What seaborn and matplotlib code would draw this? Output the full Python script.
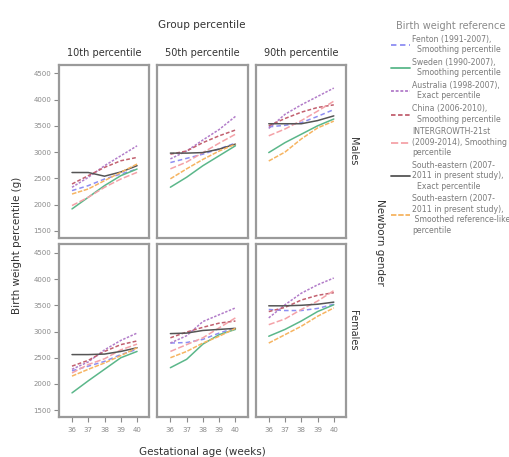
import matplotlib
matplotlib.use("Agg")
import matplotlib.pyplot as plt
from matplotlib.lines import Line2D
import seaborn as sns
import pandas as pd

# Gestational ages (weeks)
weeks = [36, 37, 38, 39, 40]

# Reference names (legend order)
references = [
    "Fenton (1991-2007),\n  Smoothing percentile",
    "Sweden (1990-2007),\n  Smoothing percentile",
    "Australia (1998-2007),\n  Exact percentile",
    "China (2006-2010),\n  Smoothing percentile",
    "INTERGROWTH-21st\n(2009-2014), Smoothing\npercentile",
    "South-eastern (2007-\n2011 in present study),\n  Exact percentile",
    "South-eastern (2007-\n2011 in present study),\n Smoothed reference-like\npercentile",
]
ref_colors = ["#8e8ef2", "#5bb78a", "#b27cc9", "#c2606f", "#f4a2a8", "#555555", "#f6b461"]
ref_dashes = [(3, 2), "", (1.6, 1), (2.5, 1.4), (4, 1.5), "", (3, 1)]

percentiles = ["10th percentile", "50th percentile", "90th percentile"]
genders = ["Males", "Females"]

# Birth weight (g) at 36..40 weeks, one list per reference, in legend order
males_p10 = [
    [2265, 2360, 2486, 2581, 2676],
    [1916, 2138, 2360, 2550, 2676],
    [2328, 2518, 2740, 2929, 3119],
    [2391, 2550, 2708, 2834, 2898],
    [1980, 2138, 2328, 2486, 2613],
    [2610, 2610, 2540, 2620, 2740],
    [2200, 2296, 2455, 2613, 2771],
]
males_p50 = [
    [2800, 2880, 2960, 3060, 3170],
    [2330, 2520, 2740, 2930, 3120],
    [2870, 3020, 3230, 3430, 3680],
    [2960, 3020, 3180, 3310, 3420],
    [2680, 2810, 2990, 3170, 3340],
    [2980, 2980, 2990, 3056, 3151],
    [2490, 2680, 2860, 3020, 3150],
]
males_p90 = [
    [3480, 3510, 3560, 3680, 3810],
    [2990, 3180, 3340, 3500, 3630],
    [3450, 3720, 3900, 4060, 4220],
    [3500, 3640, 3760, 3850, 3900],
    [3310, 3440, 3600, 3780, 3970],
    [3540, 3540, 3540, 3600, 3690],
    [2830, 3000, 3250, 3460, 3590],
]
females_p10 = [
    [2250, 2340, 2430, 2560, 2660],
    [1830, 2060, 2280, 2500, 2620],
    [2280, 2420, 2650, 2830, 2970],
    [2340, 2450, 2620, 2750, 2820],
    [2210, 2370, 2480, 2650, 2760],
    [2560, 2560, 2570, 2620, 2690],
    [2150, 2280, 2400, 2540, 2690],
]
females_p50 = [
    [2780, 2790, 2850, 2970, 3070],
    [2310, 2470, 2760, 2940, 3040],
    [2780, 2920, 3190, 3320, 3450],
    [2880, 2990, 3080, 3160, 3200],
    [2620, 2750, 2880, 3070, 3260],
    [2960, 2970, 3020, 3040, 3060],
    [2500, 2620, 2780, 2910, 3060],
]
females_p90 = [
    [3420, 3400, 3400, 3440, 3520],
    [2910, 3040, 3200, 3380, 3510],
    [3260, 3510, 3730, 3890, 4020],
    [3380, 3460, 3600, 3690, 3740],
    [3130, 3240, 3420, 3580, 3780],
    [3490, 3490, 3500, 3520, 3560],
    [2780, 2940, 3100, 3290, 3450],
]

y_ticks = [1500, 2000, 2500, 3000, 3500, 4000, 4500]

tables = {
    ("Males", "10th percentile"): males_p10,
    ("Males", "50th percentile"): males_p50,
    ("Males", "90th percentile"): males_p90,
    ("Females", "10th percentile"): females_p10,
    ("Females", "50th percentile"): females_p50,
    ("Females", "90th percentile"): females_p90,
}

rows = []
for (gender, pct), series in tables.items():
    for ref, values in zip(references, series):
        for w, v in zip(weeks, values):
            rows.append({"gender": gender, "pct": pct, "ref": ref,
                         "week": w, "weight": v})
df = pd.DataFrame(rows)

sns.set_theme(style="white")
plt.rcParams["font.family"] = ["DejaVu Sans"]

palette = dict(zip(references, ref_colors))
dashes = dict(zip(references, ref_dashes))

fig, axes = plt.subplots(2, 3, figsize=(5.09, 4.57), dpi=100, sharex=True, sharey=True)
fig.subplots_adjust(left=59 / 509, right=346 / 509, top=1 - 65 / 457,
                    bottom=1 - 417 / 457, wspace=0.09, hspace=0.04)

spine_col = "#9a9a9a"
tick_col = "#8a8a8a"

for i, gender in enumerate(genders):
    for j, pct in enumerate(percentiles):
        ax = axes[i, j]
        sub = df[(df.gender == gender) & (df.pct == pct)]
        sns.lineplot(data=sub, x="week", y="weight", hue="ref", style="ref",
                     palette=palette, dashes=dashes, hue_order=references,
                     style_order=references, linewidth=1.1, legend=False, ax=ax)
        ax.set_xlim(35.2, 40.75)
        ax.set_ylim(1370, 4660)
        ax.set_xticks(weeks)
        ax.set_yticks(y_ticks)
        ax.set_xlabel("")
        ax.set_ylabel("")
        for s in ax.spines.values():
            s.set_color(spine_col)
            s.set_linewidth(1.6)
        ax.tick_params(axis="both", length=3.5, width=0.8, color=tick_col,
                       labelsize=5, labelcolor=tick_col, pad=2,
                       bottom=(i == 1), left=(j == 0))
        ax.tick_params(axis="x", pad=4)
        if i == 0:
            ax.text(0.5, 1.07, pct, transform=ax.transAxes, ha="center",
                    va="center", fontsize=7, color="#333333")
        if j == 2:
            ax.text(1.08, 0.5, gender, transform=ax.transAxes, ha="center",
                    va="center", rotation=270, fontsize=7, color="#333333")

fig.text(202 / 509, 1 - 25 / 457, "Group percentile", ha="center", va="center",
         fontsize=7.5, color="#333333")
fig.text(380 / 509, 1 - 242 / 457, "Newborn gender", ha="center", va="center",
         rotation=270, fontsize=7.5, color="#333333")
fig.text(17 / 509, 1 - 245 / 457, "Birth weight percentile (g)", ha="center",
         va="center", rotation=90, fontsize=7.5, color="#333333")
fig.text(202 / 509, 1 - 452 / 457, "Gestational age (weeks)", ha="center",
         va="center", fontsize=7.5, color="#333333")

handles = [Line2D([0], [0], color=c, lw=1.3,
                  linestyle=(0, d) if d else "-")
           for c, d in zip(ref_colors, ref_dashes)]
leg = fig.legend(handles, references, loc="upper left",
                 bbox_to_anchor=(391 / 509, 1 - 21 / 457), frameon=False,
                 fontsize=5.6, title="Birth weight reference", title_fontsize=7,
                 handlelength=2.4, handletextpad=0.3, labelspacing=0.48,
                 borderaxespad=0, borderpad=0, alignment="center")
leg.get_title().set_color("#8a8a8a")
for t in leg.get_texts():
    t.set_color("#7a7a7a")

fig.savefig("out.png", dpi=100)
